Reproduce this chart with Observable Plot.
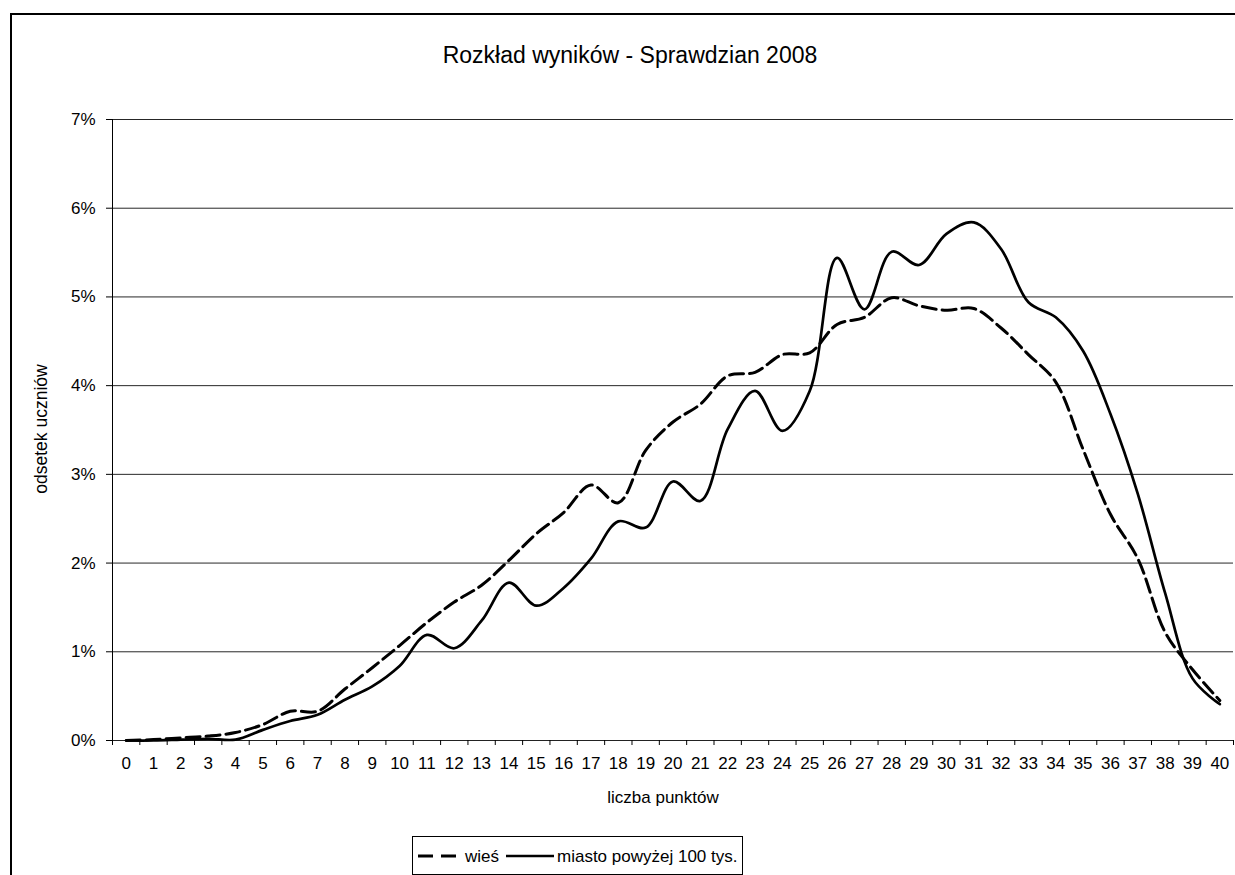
<!DOCTYPE html>
<html>
<head>
<meta charset="utf-8">
<script src="https://cdn.jsdelivr.net/npm/d3@7"></script>
<script src="https://cdn.jsdelivr.net/npm/@observablehq/plot@0.6"></script>
<style>
  html, body { margin: 0; padding: 0; background: #fff; }
  body { width: 1235px; height: 875px; position: relative; overflow: hidden; font-family: "Liberation Sans", Arial, sans-serif; color: #000; }
  #frame { position: absolute; left: 10px; top: 13px; width: 1400px; height: 1000px; border-left: 2px solid #000; border-top: 2px solid #000; }
  #chart { position: absolute; left: 0; top: 0; }
  .lbl { position: absolute; white-space: nowrap; font-size: 17px; line-height: 1; }
  #title { font-size: 23px; left: 630px; top: 44px; transform: translateX(-50%); }
  #xlabel { left: 663px; top: 789px; transform: translateX(-50%); }
  #ylabel { left: 42px; top: 429px; transform: translate(-50%, -50%) rotate(-90deg); font-size: 17.5px; }
  #legend { position: absolute; left: 412px; top: 836px; width: 329px; height: 37px; border: 1px solid #000; background: #fff; }
</style>
</head>
<body>
<div id="frame"></div>
<div id="chart"></div>
<div id="title" class="lbl">Rozkład wyników - Sprawdzian 2008</div>
<div id="xlabel" class="lbl">liczba punktów</div>
<div id="ylabel" class="lbl">odsetek uczniów</div>
<div id="legend"></div>
<script>
// Data (percent of students by score)
const points = d3.range(0, 41);
const wies = [0, 0.01, 0.03, 0.05, 0.09, 0.18, 0.33, 0.33, 0.58, 0.82, 1.07, 1.33, 1.56, 1.75, 2.03, 2.33, 2.57, 2.88, 2.68, 3.27, 3.59, 3.79, 4.11, 4.15, 4.35, 4.37, 4.69, 4.77, 4.99, 4.90, 4.85, 4.87, 4.65, 4.35, 4.04, 3.28, 2.55, 2.05, 1.22, 0.80, 0.45];
const miasto = [0, 0, 0.01, 0.02, 0.01, 0.12, 0.22, 0.29, 0.46, 0.61, 0.84, 1.19, 1.04, 1.35, 1.78, 1.52, 1.72, 2.05, 2.47, 2.40, 2.92, 2.70, 3.51, 3.94, 3.49, 3.94, 5.44, 4.86, 5.51, 5.36, 5.71, 5.84, 5.54, 4.94, 4.77, 4.39, 3.68, 2.78, 1.66, 0.70, 0.41];
const yTicks = [0, 1, 2, 3, 4, 5, 6, 7];
const seriesNames = ["wieś", "miasto powyżej 100 tys."];

const rows = [];
points.forEach((p, i) => {
  rows.push({p, v: wies[i], s: seriesNames[0]});
  rows.push({p, v: miasto[i], s: seriesNames[1]});
});
const boundaries = d3.range(-0.5, 41, 1);

const font = {fontSize: 17, fontFamily: "Liberation Sans, Arial, sans-serif"};

const chart = Plot.plot({
  width: 1235,
  height: 875,
  marginLeft: 112,
  marginRight: 2,
  marginTop: 119,
  marginBottom: 135,
  style: {background: "transparent", fontFamily: "Liberation Sans, Arial, sans-serif", color: "#000"},
  x: {domain: [-0.5, 40.5], axis: null, label: null},
  y: {domain: [0, 7], axis: null, label: null},
  marks: [
    Plot.ruleY(yTicks.filter(d => d > 0), {stroke: "#000", strokeWidth: 1, strokeOpacity: 0.85}),
    Plot.ruleY([0], {stroke: "#222", strokeWidth: 1.2}),
    Plot.ruleX([-0.5], {stroke: "#000", strokeWidth: 1}),
    Plot.axisY({ticks: yTicks, tickFormat: d => d + "%", tickSize: 6, tickPadding: 11, stroke: "#000", label: null, ...font}),
    Plot.axisX({ticks: boundaries, tickFormat: () => "", tickSize: 5, stroke: "#000", label: null}),
    Plot.axisX({ticks: points, tickFormat: d => String(d), tickSize: 0, tickPadding: 16, label: null, ...font}),
    Plot.line(rows.filter(d => d.s === seriesNames[0]), {x: "p", y: "v", curve: "catmull-rom", stroke: "#000", strokeWidth: 3, strokeDasharray: "14,6"}),
    Plot.line(rows.filter(d => d.s === seriesNames[1]), {x: "p", y: "v", curve: "catmull-rom", stroke: "#000", strokeWidth: 2.7})
  ]
});
document.getElementById("chart").appendChild(chart);

// Legend
const leg = d3.select("#legend").append("svg").attr("width", 329).attr("height", 37);
leg.append("line").attr("x1", 5).attr("x2", 49).attr("y1", 19).attr("y2", 19)
  .attr("stroke", "#000").attr("stroke-width", 3).attr("stroke-dasharray", "15,8");
leg.append("text").attr("x", 52).attr("y", 19).attr("dy", "0.35em")
  .attr("font-size", 17).attr("font-family", "Liberation Sans, Arial, sans-serif").text(seriesNames[0]);
leg.append("line").attr("x1", 93).attr("x2", 141).attr("y1", 19).attr("y2", 19)
  .attr("stroke", "#000").attr("stroke-width", 2.7);
leg.append("text").attr("x", 144).attr("y", 19).attr("dy", "0.35em")
  .attr("font-size", 17).attr("font-family", "Liberation Sans, Arial, sans-serif").text(seriesNames[1]);
</script>
</body>
</html>
